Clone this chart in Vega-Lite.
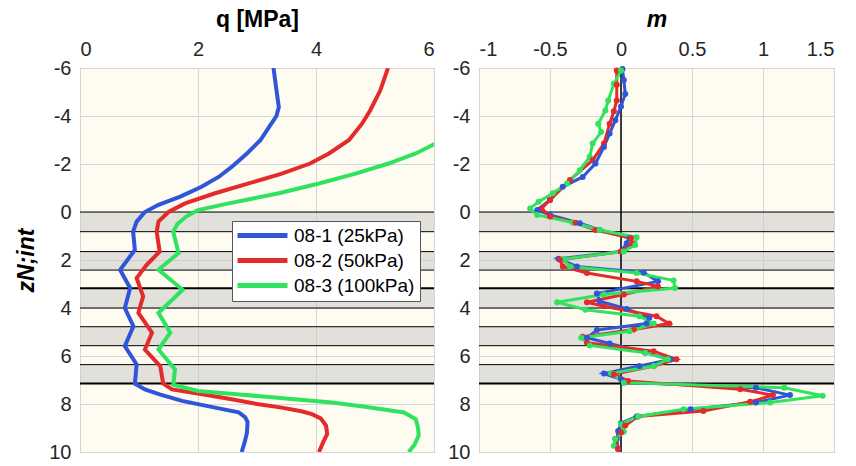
{
  "$schema": "https://vega.github.io/schema/vega-lite/v6.json",
  "padding": {"left": 15, "top": 7, "right": 5, "bottom": 5},
  "spacing": 11,
  "datasets": {
    "bands": [
      {"z0": 0, "z1": 0.82}, {"z0": 1.65, "z1": 2.42}, {"z0": 3.18, "z1": 4.0}, {"z0": 4.78, "z1": 5.57}, {"z0": 6.36, "z1": 7.15}
    ],
    "bounds": [
      {"z": 0, "kind": "thin"}, {"z": 0.82, "kind": "thin"}, {"z": 1.65, "kind": "thin"}, {"z": 2.42, "kind": "thin"},
      {"z": 3.18, "kind": "thick"}, {"z": 4.0, "kind": "thin"}, {"z": 4.78, "kind": "thin"}, {"z": 5.57, "kind": "thin"},
      {"z": 6.36, "kind": "thin"}, {"z": 7.15, "kind": "thick"}
    ],
    "q": [
      {"s": "08-1 (25kPa)", "z": -6, "q": 3.28}, {"s": "08-1 (25kPa)", "z": -5.07, "q": 3.33}, {"s": "08-1 (25kPa)", "z": -4.37, "q": 3.37},
      {"s": "08-1 (25kPa)", "z": -4.0, "q": 3.33}, {"s": "08-1 (25kPa)", "z": -3.6, "q": 3.22}, {"s": "08-1 (25kPa)", "z": -3.0, "q": 3.06},
      {"s": "08-1 (25kPa)", "z": -2.44, "q": 2.83}, {"s": "08-1 (25kPa)", "z": -1.88, "q": 2.57}, {"s": "08-1 (25kPa)", "z": -1.46, "q": 2.35},
      {"s": "08-1 (25kPa)", "z": -1.05, "q": 2.06}, {"s": "08-1 (25kPa)", "z": -0.64, "q": 1.70}, {"s": "08-1 (25kPa)", "z": -0.3, "q": 1.33},
      {"s": "08-1 (25kPa)", "z": 0, "q": 1.10}, {"s": "08-1 (25kPa)", "z": 0.4, "q": 0.96}, {"s": "08-1 (25kPa)", "z": 0.82, "q": 0.90},
      {"s": "08-1 (25kPa)", "z": 1.58, "q": 0.93}, {"s": "08-1 (25kPa)", "z": 2.41, "q": 0.68}, {"s": "08-1 (25kPa)", "z": 3.17, "q": 0.85},
      {"s": "08-1 (25kPa)", "z": 4.0, "q": 0.76}, {"s": "08-1 (25kPa)", "z": 4.76, "q": 0.905}, {"s": "08-1 (25kPa)", "z": 5.59, "q": 0.76},
      {"s": "08-1 (25kPa)", "z": 6.35, "q": 0.96}, {"s": "08-1 (25kPa)", "z": 7.15, "q": 0.93}, {"s": "08-1 (25kPa)", "z": 7.39, "q": 1.10},
      {"s": "08-1 (25kPa)", "z": 7.6, "q": 1.35}, {"s": "08-1 (25kPa)", "z": 7.87, "q": 1.73}, {"s": "08-1 (25kPa)", "z": 8.15, "q": 2.29},
      {"s": "08-1 (25kPa)", "z": 8.35, "q": 2.69}, {"s": "08-1 (25kPa)", "z": 8.55, "q": 2.80}, {"s": "08-1 (25kPa)", "z": 8.75, "q": 2.84},
      {"s": "08-1 (25kPa)", "z": 9.2, "q": 2.83}, {"s": "08-1 (25kPa)", "z": 9.6, "q": 2.79}, {"s": "08-1 (25kPa)", "z": 10, "q": 2.74},

      {"s": "08-2 (50kPa)", "z": -6, "q": 5.22}, {"s": "08-2 (50kPa)", "z": -5.07, "q": 5.09}, {"s": "08-2 (50kPa)", "z": -4.24, "q": 4.92},
      {"s": "08-2 (50kPa)", "z": -3.68, "q": 4.78}, {"s": "08-2 (50kPa)", "z": -3.0, "q": 4.56}, {"s": "08-2 (50kPa)", "z": -2.44, "q": 4.22},
      {"s": "08-2 (50kPa)", "z": -2.02, "q": 3.9}, {"s": "08-2 (50kPa)", "z": -1.6, "q": 3.42}, {"s": "08-2 (50kPa)", "z": -1.19, "q": 2.86},
      {"s": "08-2 (50kPa)", "z": -0.78, "q": 2.29}, {"s": "08-2 (50kPa)", "z": -0.36, "q": 1.78}, {"s": "08-2 (50kPa)", "z": 0, "q": 1.5},
      {"s": "08-2 (50kPa)", "z": 0.4, "q": 1.33}, {"s": "08-2 (50kPa)", "z": 0.82, "q": 1.30}, {"s": "08-2 (50kPa)", "z": 1.65, "q": 1.35},
      {"s": "08-2 (50kPa)", "z": 2.2, "q": 1.13}, {"s": "08-2 (50kPa)", "z": 2.75, "q": 0.96}, {"s": "08-2 (50kPa)", "z": 3.51, "q": 1.07},
      {"s": "08-2 (50kPa)", "z": 4.2, "q": 0.99}, {"s": "08-2 (50kPa)", "z": 5.03, "q": 1.22}, {"s": "08-2 (50kPa)", "z": 5.73, "q": 1.10},
      {"s": "08-2 (50kPa)", "z": 6.42, "q": 1.36}, {"s": "08-2 (50kPa)", "z": 7.15, "q": 1.41}, {"s": "08-2 (50kPa)", "z": 7.39, "q": 1.56},
      {"s": "08-2 (50kPa)", "z": 7.6, "q": 2.1}, {"s": "08-2 (50kPa)", "z": 7.8, "q": 2.57}, {"s": "08-2 (50kPa)", "z": 8.0, "q": 3.0},
      {"s": "08-2 (50kPa)", "z": 8.15, "q": 3.42}, {"s": "08-2 (50kPa)", "z": 8.3, "q": 3.75}, {"s": "08-2 (50kPa)", "z": 8.42, "q": 3.93},
      {"s": "08-2 (50kPa)", "z": 8.6, "q": 4.08}, {"s": "08-2 (50kPa)", "z": 8.9, "q": 4.17}, {"s": "08-2 (50kPa)", "z": 9.25, "q": 4.19},
      {"s": "08-2 (50kPa)", "z": 9.6, "q": 4.12}, {"s": "08-2 (50kPa)", "z": 10, "q": 4.05},

      {"s": "08-3 (100kPa)", "z": -3.05, "q": 6.25}, {"s": "08-3 (100kPa)", "z": -2.82, "q": 6.0}, {"s": "08-3 (100kPa)", "z": -2.44, "q": 5.69},
      {"s": "08-3 (100kPa)", "z": -2.02, "q": 5.23}, {"s": "08-3 (100kPa)", "z": -1.6, "q": 4.67}, {"s": "08-3 (100kPa)", "z": -1.19, "q": 4.05},
      {"s": "08-3 (100kPa)", "z": -0.78, "q": 3.37}, {"s": "08-3 (100kPa)", "z": -0.36, "q": 2.52}, {"s": "08-3 (100kPa)", "z": -0.08, "q": 2.0},
      {"s": "08-3 (100kPa)", "z": 0.19, "q": 1.80}, {"s": "08-3 (100kPa)", "z": 0.5, "q": 1.65}, {"s": "08-3 (100kPa)", "z": 0.82, "q": 1.58},
      {"s": "08-3 (100kPa)", "z": 1.71, "q": 1.67}, {"s": "08-3 (100kPa)", "z": 2.41, "q": 1.33}, {"s": "08-3 (100kPa)", "z": 3.24, "q": 1.74},
      {"s": "08-3 (100kPa)", "z": 4.2, "q": 1.33}, {"s": "08-3 (100kPa)", "z": 5.03, "q": 1.53}, {"s": "08-3 (100kPa)", "z": 5.73, "q": 1.33},
      {"s": "08-3 (100kPa)", "z": 6.56, "q": 1.61}, {"s": "08-3 (100kPa)", "z": 7.2, "q": 1.58}, {"s": "08-3 (100kPa)", "z": 7.46, "q": 2.0},
      {"s": "08-3 (100kPa)", "z": 7.6, "q": 2.7}, {"s": "08-3 (100kPa)", "z": 7.73, "q": 3.3}, {"s": "08-3 (100kPa)", "z": 7.94, "q": 4.27},
      {"s": "08-3 (100kPa)", "z": 8.1, "q": 4.8}, {"s": "08-3 (100kPa)", "z": 8.22, "q": 5.12}, {"s": "08-3 (100kPa)", "z": 8.35, "q": 5.49},
      {"s": "08-3 (100kPa)", "z": 8.63, "q": 5.69}, {"s": "08-3 (100kPa)", "z": 9.0, "q": 5.73}, {"s": "08-3 (100kPa)", "z": 9.32, "q": 5.74},
      {"s": "08-3 (100kPa)", "z": 9.7, "q": 5.67}, {"s": "08-3 (100kPa)", "z": 10, "q": 5.57}
    ],
    "m": [
      {"s": "08-1 (25kPa)", "z": -5.96, "m": 0.01}, {"s": "08-1 (25kPa)", "z": -5.5, "m": 0.02}, {"s": "08-1 (25kPa)", "z": -4.92, "m": 0.03},
      {"s": "08-1 (25kPa)", "z": -4.4, "m": 0.0}, {"s": "08-1 (25kPa)", "z": -3.82, "m": -0.04}, {"s": "08-1 (25kPa)", "z": -3.27, "m": -0.08},
      {"s": "08-1 (25kPa)", "z": -2.71, "m": -0.12}, {"s": "08-1 (25kPa)", "z": -2.02, "m": -0.18}, {"s": "08-1 (25kPa)", "z": -1.46, "m": -0.27},
      {"s": "08-1 (25kPa)", "z": -1.05, "m": -0.41}, {"s": "08-1 (25kPa)", "z": -0.5, "m": -0.5}, {"s": "08-1 (25kPa)", "z": -0.08, "m": -0.59},
      {"s": "08-1 (25kPa)", "z": 0.12, "m": -0.5}, {"s": "08-1 (25kPa)", "z": 0.47, "m": -0.29}, {"s": "08-1 (25kPa)", "z": 0.75, "m": -0.15},
      {"s": "08-1 (25kPa)", "z": 1.09, "m": 0.06}, {"s": "08-1 (25kPa)", "z": 1.3, "m": 0.04}, {"s": "08-1 (25kPa)", "z": 1.65, "m": 0.0},
      {"s": "08-1 (25kPa)", "z": 1.95, "m": -0.44}, {"s": "08-1 (25kPa)", "z": 2.27, "m": -0.31}, {"s": "08-1 (25kPa)", "z": 2.52, "m": 0.16},
      {"s": "08-1 (25kPa)", "z": 2.89, "m": 0.26}, {"s": "08-1 (25kPa)", "z": 3.4, "m": -0.17}, {"s": "08-1 (25kPa)", "z": 3.72, "m": -0.15},
      {"s": "08-1 (25kPa)", "z": 4.04, "m": 0.04}, {"s": "08-1 (25kPa)", "z": 4.41, "m": 0.2}, {"s": "08-1 (25kPa)", "z": 4.65, "m": 0.18},
      {"s": "08-1 (25kPa)", "z": 4.92, "m": -0.17}, {"s": "08-1 (25kPa)", "z": 5.24, "m": -0.24}, {"s": "08-1 (25kPa)", "z": 5.48, "m": -0.08},
      {"s": "08-1 (25kPa)", "z": 5.86, "m": 0.17}, {"s": "08-1 (25kPa)", "z": 6.14, "m": 0.35}, {"s": "08-1 (25kPa)", "z": 6.42, "m": 0.13},
      {"s": "08-1 (25kPa)", "z": 6.73, "m": -0.12}, {"s": "08-1 (25kPa)", "z": 6.97, "m": 0.0}, {"s": "08-1 (25kPa)", "z": 7.1, "m": 0.02},
      {"s": "08-1 (25kPa)", "z": 7.32, "m": 0.95}, {"s": "08-1 (25kPa)", "z": 7.63, "m": 1.19}, {"s": "08-1 (25kPa)", "z": 7.94, "m": 0.95},
      {"s": "08-1 (25kPa)", "z": 8.22, "m": 0.49}, {"s": "08-1 (25kPa)", "z": 8.52, "m": 0.11}, {"s": "08-1 (25kPa)", "z": 8.8, "m": 0.0},
      {"s": "08-1 (25kPa)", "z": 9.12, "m": -0.02}, {"s": "08-1 (25kPa)", "z": 9.46, "m": -0.03}, {"s": "08-1 (25kPa)", "z": 9.87, "m": -0.02},

      {"s": "08-2 (50kPa)", "z": -5.9, "m": -0.03}, {"s": "08-2 (50kPa)", "z": -5.3, "m": -0.03}, {"s": "08-2 (50kPa)", "z": -4.65, "m": -0.03},
      {"s": "08-2 (50kPa)", "z": -4.2, "m": -0.05}, {"s": "08-2 (50kPa)", "z": -3.68, "m": -0.08}, {"s": "08-2 (50kPa)", "z": -2.85, "m": -0.12},
      {"s": "08-2 (50kPa)", "z": -2.16, "m": -0.2}, {"s": "08-2 (50kPa)", "z": -1.33, "m": -0.36}, {"s": "08-2 (50kPa)", "z": -0.5, "m": -0.5},
      {"s": "08-2 (50kPa)", "z": -0.15, "m": -0.56}, {"s": "08-2 (50kPa)", "z": 0.19, "m": -0.5}, {"s": "08-2 (50kPa)", "z": 0.45, "m": -0.32},
      {"s": "08-2 (50kPa)", "z": 0.75, "m": -0.18}, {"s": "08-2 (50kPa)", "z": 1.09, "m": 0.07}, {"s": "08-2 (50kPa)", "z": 1.3, "m": 0.08},
      {"s": "08-2 (50kPa)", "z": 1.65, "m": 0.0}, {"s": "08-2 (50kPa)", "z": 1.99, "m": -0.43}, {"s": "08-2 (50kPa)", "z": 2.27, "m": -0.41},
      {"s": "08-2 (50kPa)", "z": 2.54, "m": -0.24}, {"s": "08-2 (50kPa)", "z": 2.89, "m": 0.11}, {"s": "08-2 (50kPa)", "z": 3.1, "m": 0.26},
      {"s": "08-2 (50kPa)", "z": 3.44, "m": 0.02}, {"s": "08-2 (50kPa)", "z": 3.76, "m": -0.24}, {"s": "08-2 (50kPa)", "z": 3.93, "m": -0.12},
      {"s": "08-2 (50kPa)", "z": 4.34, "m": 0.25}, {"s": "08-2 (50kPa)", "z": 4.65, "m": 0.34}, {"s": "08-2 (50kPa)", "z": 4.9, "m": 0.09},
      {"s": "08-2 (50kPa)", "z": 5.2, "m": -0.27}, {"s": "08-2 (50kPa)", "z": 5.45, "m": -0.24}, {"s": "08-2 (50kPa)", "z": 5.8, "m": 0.23},
      {"s": "08-2 (50kPa)", "z": 6.14, "m": 0.39}, {"s": "08-2 (50kPa)", "z": 6.42, "m": 0.23}, {"s": "08-2 (50kPa)", "z": 6.76, "m": -0.05},
      {"s": "08-2 (50kPa)", "z": 7.04, "m": 0.05}, {"s": "08-2 (50kPa)", "z": 7.39, "m": 0.84}, {"s": "08-2 (50kPa)", "z": 7.63, "m": 1.07},
      {"s": "08-2 (50kPa)", "z": 7.91, "m": 0.91}, {"s": "08-2 (50kPa)", "z": 8.29, "m": 0.58}, {"s": "08-2 (50kPa)", "z": 8.52, "m": 0.12},
      {"s": "08-2 (50kPa)", "z": 8.9, "m": 0.03}, {"s": "08-2 (50kPa)", "z": 9.19, "m": 0.0}, {"s": "08-2 (50kPa)", "z": 9.46, "m": -0.04},
      {"s": "08-2 (50kPa)", "z": 9.87, "m": -0.02},

      {"s": "08-3 (100kPa)", "z": -5.9, "m": 0.0}, {"s": "08-3 (100kPa)", "z": -5.34, "m": -0.05}, {"s": "08-3 (100kPa)", "z": -4.65, "m": -0.09},
      {"s": "08-3 (100kPa)", "z": -4.23, "m": -0.11}, {"s": "08-3 (100kPa)", "z": -3.68, "m": -0.16}, {"s": "08-3 (100kPa)", "z": -3.33, "m": -0.14},
      {"s": "08-3 (100kPa)", "z": -2.85, "m": -0.2}, {"s": "08-3 (100kPa)", "z": -2.3, "m": -0.22}, {"s": "08-3 (100kPa)", "z": -1.74, "m": -0.29},
      {"s": "08-3 (100kPa)", "z": -1.19, "m": -0.38}, {"s": "08-3 (100kPa)", "z": -0.78, "m": -0.48}, {"s": "08-3 (100kPa)", "z": -0.43, "m": -0.58},
      {"s": "08-3 (100kPa)", "z": -0.15, "m": -0.64}, {"s": "08-3 (100kPa)", "z": 0.12, "m": -0.59}, {"s": "08-3 (100kPa)", "z": 0.44, "m": -0.34},
      {"s": "08-3 (100kPa)", "z": 0.75, "m": -0.15}, {"s": "08-3 (100kPa)", "z": 1.05, "m": 0.11}, {"s": "08-3 (100kPa)", "z": 1.37, "m": 0.10},
      {"s": "08-3 (100kPa)", "z": 1.65, "m": 0.02}, {"s": "08-3 (100kPa)", "z": 1.96, "m": -0.41}, {"s": "08-3 (100kPa)", "z": 2.27, "m": -0.36},
      {"s": "08-3 (100kPa)", "z": 2.54, "m": 0.11}, {"s": "08-3 (100kPa)", "z": 2.85, "m": 0.37}, {"s": "08-3 (100kPa)", "z": 3.17, "m": 0.38},
      {"s": "08-3 (100kPa)", "z": 3.44, "m": -0.12}, {"s": "08-3 (100kPa)", "z": 3.76, "m": -0.45}, {"s": "08-3 (100kPa)", "z": 4.07, "m": -0.25},
      {"s": "08-3 (100kPa)", "z": 4.34, "m": 0.13}, {"s": "08-3 (100kPa)", "z": 4.65, "m": 0.23}, {"s": "08-3 (100kPa)", "z": 4.97, "m": 0.06},
      {"s": "08-3 (100kPa)", "z": 5.24, "m": -0.28}, {"s": "08-3 (100kPa)", "z": 5.56, "m": -0.22}, {"s": "08-3 (100kPa)", "z": 5.86, "m": 0.17},
      {"s": "08-3 (100kPa)", "z": 6.14, "m": 0.33}, {"s": "08-3 (100kPa)", "z": 6.42, "m": 0.23}, {"s": "08-3 (100kPa)", "z": 6.72, "m": -0.07},
      {"s": "08-3 (100kPa)", "z": 7.11, "m": 0.02}, {"s": "08-3 (100kPa)", "z": 7.32, "m": 1.15}, {"s": "08-3 (100kPa)", "z": 7.66, "m": 1.42},
      {"s": "08-3 (100kPa)", "z": 7.94, "m": 1.05}, {"s": "08-3 (100kPa)", "z": 8.22, "m": 0.44}, {"s": "08-3 (100kPa)", "z": 8.52, "m": 0.12},
      {"s": "08-3 (100kPa)", "z": 8.84, "m": 0.0}, {"s": "08-3 (100kPa)", "z": 9.16, "m": 0.02}, {"s": "08-3 (100kPa)", "z": 9.46, "m": -0.04},
      {"s": "08-3 (100kPa)", "z": 9.74, "m": -0.05}
    ]
  },
  "config": {
    "font": "Liberation Sans",
    "view": {"fill": "#fefbf1", "stroke": "#8c8c8c", "strokeWidth": 1},
    "axis": {
      "labelFontSize": 20, "labelColor": "#262626", "titleFontSize": 23, "titleFontWeight": "bold", "titleColor": "#000000",
      "grid": true, "gridColor": "#d6d6d6", "gridWidth": 1, "ticks": false, "domain": false, "labelPadding": 9,
      "labelExpr": "toString(datum.value)"
    }
  },
  "resolve": {"scale": {"color": "independent"}, "legend": {"color": "independent"}},
  "hconcat": [
    {
      "width": 354, "height": 384,
      "layer": [
        {"data": {"name": "bands"}, "mark": {"type": "rect", "fill": "#c6c6c6", "opacity": 0.5},
         "encoding": {"y": {"field": "z0", "type": "quantitative", "scale": {"domain": [-6, 10], "reverse": true, "nice": false}}, "y2": {"field": "z1"}}},
        {"data": {"name": "bounds"}, "mark": {"type": "rule", "color": "#000000"},
         "encoding": {"y": {"field": "z", "type": "quantitative"},
                      "strokeWidth": {"field": "kind", "type": "nominal", "scale": {"domain": ["thin", "thick"], "range": [1, 2]}, "legend": null}}},
        {"data": {"name": "q"}, "mark": {"type": "line", "strokeWidth": 4, "clip": true},
         "encoding": {
           "x": {"field": "q", "type": "quantitative", "scale": {"domain": [0, 6], "nice": false},
                 "axis": {"orient": "top", "values": [0, 2, 4, 6], "title": "q [MPa]", "titlePadding": 8}},
           "y": {"field": "z", "type": "quantitative", "scale": {"domain": [-6, 10], "reverse": true, "nice": false},
                 "axis": {"values": [-6, -4, -2, 0, 2, 4, 6, 8, 10], "title": "zN;int", "titleFontStyle": "italic", "titlePadding": 10}},
           "order": {"field": "z", "type": "quantitative"},
           "color": {"field": "s", "type": "nominal",
                     "scale": {"domain": ["08-1 (25kPa)", "08-2 (50kPa)", "08-3 (100kPa)"], "range": ["#2f55d8", "#e32b2b", "#2fe35f"]},
                     "legend": {"orient": "none", "legendX": 152, "legendY": 153, "title": null, "symbolType": "M-4,0H4", "symbolSize": 156,
                                "symbolStrokeWidth": 5, "labelFontSize": 19, "labelColor": "#000000", "fillColor": "#ffffff", "strokeColor": "#555555",
                                "padding": 5, "rowPadding": 4, "symbolOffset": 16, "labelOffset": 22}}
         }}
      ]
    },
    {
      "width": 355, "height": 384,
      "layer": [
        {"data": {"name": "bands"}, "mark": {"type": "rect", "fill": "#c6c6c6", "opacity": 0.5},
         "encoding": {"y": {"field": "z0", "type": "quantitative", "scale": {"domain": [-6, 10], "reverse": true, "nice": false}}, "y2": {"field": "z1"}}},
        {"data": {"name": "bounds"}, "mark": {"type": "rule", "color": "#000000"},
         "encoding": {"y": {"field": "z", "type": "quantitative"},
                      "strokeWidth": {"field": "kind", "type": "nominal", "scale": {"domain": ["thin", "thick"], "range": [1, 2]}, "legend": null}}},
        {"data": {"values": [{"m0": 0}]}, "mark": {"type": "rule", "color": "#000000", "strokeWidth": 1.5},
         "encoding": {"x": {"field": "m0", "type": "quantitative"}}},
        {"data": {"name": "m"}, "mark": {"type": "line", "strokeWidth": 3, "point": {"filled": true, "size": 36}},
         "encoding": {
           "x": {"field": "m", "type": "quantitative", "scale": {"domain": [-1, 1.5], "nice": false},
                 "axis": {"orient": "top", "values": [-1, -0.5, 0, 0.5, 1, 1.5], "title": "m", "titleFontStyle": "italic", "titlePadding": 8}},
           "y": {"field": "z", "type": "quantitative", "scale": {"domain": [-6, 10], "reverse": true, "nice": false},
                 "axis": {"values": [-6, -4, -2, 0, 2, 4, 6, 8, 10], "title": null}},
           "order": {"field": "z", "type": "quantitative"},
           "color": {"field": "s", "type": "nominal",
                     "scale": {"domain": ["08-1 (25kPa)", "08-2 (50kPa)", "08-3 (100kPa)"], "range": ["#2f55d8", "#e32b2b", "#2fe35f"]},
                     "legend": null}
         }}
      ]
    }
  ]
}
